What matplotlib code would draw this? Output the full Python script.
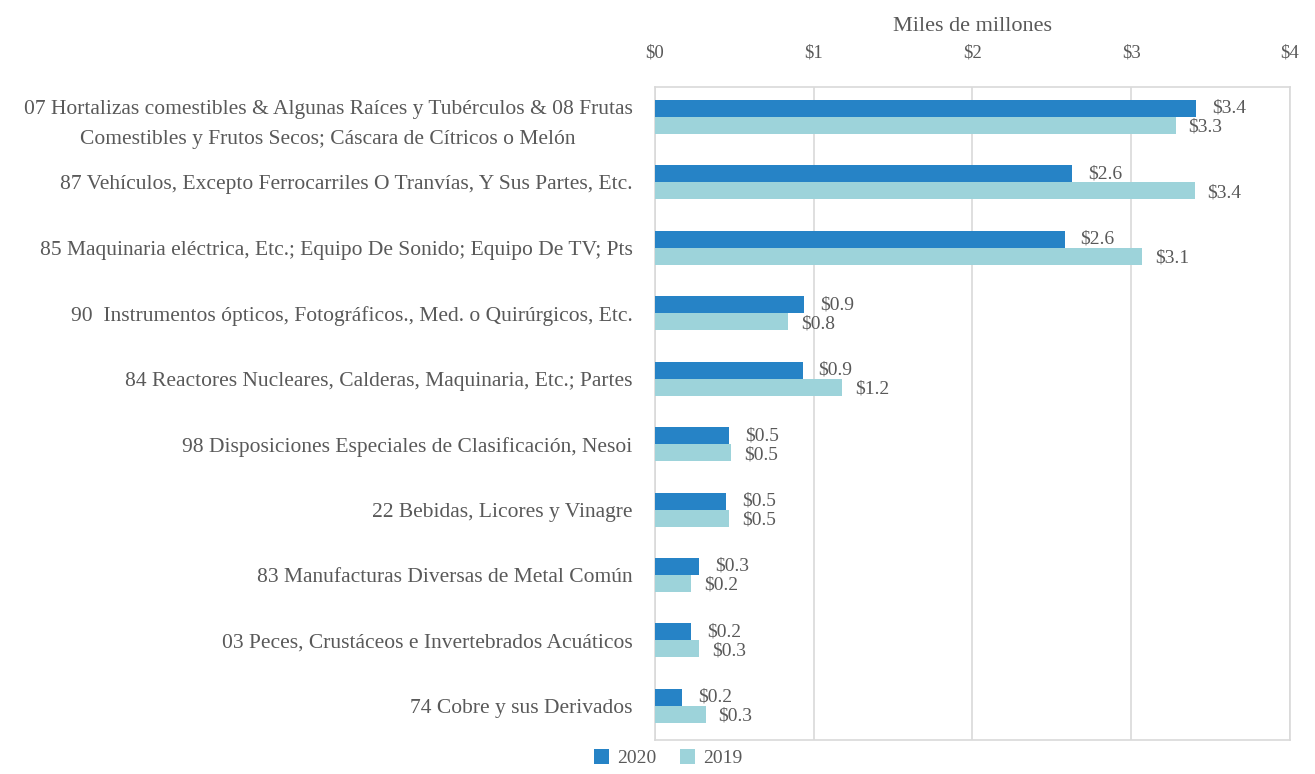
import matplotlib
matplotlib.use("Agg")
import matplotlib.pyplot as plt
import numpy as np

categories = [
    "07 Hortalizas comestibles & Algunas Raíces y Tubérculos & 08 Frutas\nComestibles y Frutos Secos; Cáscara de Cítricos o Melón",
    "87 Vehículos, Excepto Ferrocarriles O Tranvías, Y Sus Partes, Etc.",
    "85 Maquinaria eléctrica, Etc.; Equipo De Sonido; Equipo De TV; Pts",
    "90  Instrumentos ópticos, Fotográficos., Med. o Quirúrgicos, Etc.",
    "84 Reactores Nucleares, Calderas, Maquinaria, Etc.; Partes",
    "98 Disposiciones Especiales de Clasificación, Nesoi",
    "22 Bebidas, Licores y Vinagre",
    "83 Manufacturas Diversas de Metal Común",
    "03 Peces, Crustáceos e Invertebrados Acuáticos",
    "74 Cobre y sus Derivados",
]
v2020 = [3.41, 2.63, 2.58, 0.94, 0.93, 0.47, 0.45, 0.28, 0.23, 0.17]
v2019 = [3.28, 3.40, 3.07, 0.84, 1.18, 0.48, 0.47, 0.23, 0.28, 0.32]
xticks = [0, 1, 2, 3, 4]

C20, C19 = "#2683C6", "#9DD3DA"
TXT = "#595959"
plt.rcParams["font.family"] = ["Liberation Serif", "DejaVu Serif"]

fig = plt.figure(figsize=(13.15, 7.74), dpi=100)
ax = fig.add_axes([0.498, 0.044, 0.483, 0.844])

y = np.arange(len(categories))
h = 0.26
b20 = ax.barh(y - h/2, v2020, height=h, color=C20, label="2020", zorder=3)
b19 = ax.barh(y + h/2, v2019, height=h, color=C19, label="2019", zorder=3)
for yy, v in zip(y, v2020):
    ax.text(v + 0.1, yy - h/2, f"${v:.1f}", va="center", ha="left", fontsize=14, color=TXT)
for yy, v in zip(y, v2019):
    ax.text(v + 0.08, yy + h/2 + 0.03, f"${v:.1f}", va="center", ha="left", fontsize=14, color=TXT)

ax.set_xlim(0, 4)
ax.set_ylim(len(categories) - 0.48, -0.46)
ax.set_xticks(xticks)
ax.set_xticklabels([f"${t}" for t in xticks], fontsize=13.5, color=TXT)
ax.xaxis.tick_top()
ax.xaxis.set_label_position("top")
ax.set_xlabel("Miles de millones", fontsize=16, color=TXT, labelpad=10)
ax.tick_params(axis="x", length=0, pad=18)
ax.set_yticks(y)
ax.set_yticklabels(categories, fontsize=15.5, color=TXT, ha="right",
                   multialignment="center", linespacing=1.75)
ax.tick_params(axis="y", length=0, pad=16)
ax.grid(axis="x", color="#D9D9D9", lw=1.2, zorder=0)
for s in ax.spines.values():
    s.set_color("#D9D9D9")
    s.set_linewidth(1.2)

fig.legend(handles=[b20, b19], loc="lower center", bbox_to_anchor=(0.508, -0.014), ncol=2,
           frameon=False, fontsize=14, handlelength=0.8, handleheight=0.8,
           columnspacing=1.2, handletextpad=0.4, labelcolor=TXT)

fig.savefig("out.png", dpi=100)
